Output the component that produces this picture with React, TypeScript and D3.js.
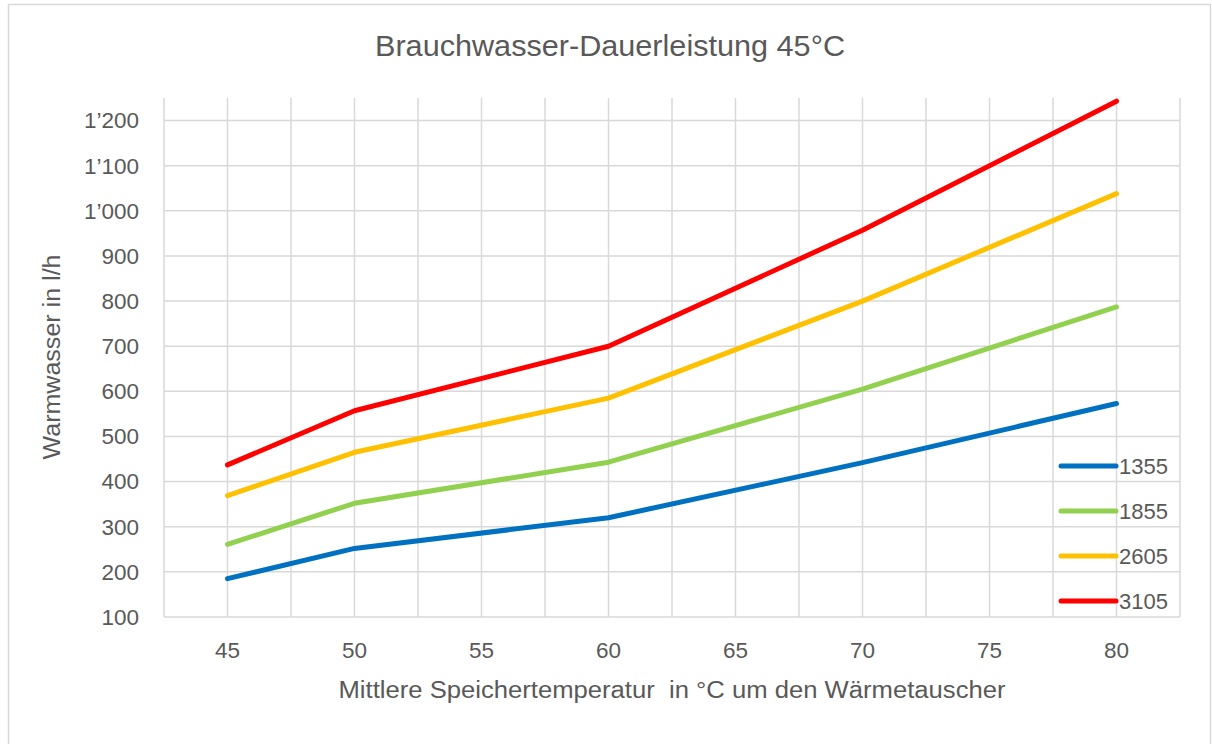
import React, { useRef, useEffect } from 'react';
import * as d3 from 'd3';

const temps = [45, 50, 60, 70, 80];
const series = ['1355', '1855', '2605', '3105'];
const colors = ['#0070C0', '#92D050', '#FFC000', '#FF0000'];
const values1355 = [185, 252, 320, 442, 573];
const values1855 = [261, 352, 443, 605, 787];
const values2605 = [369, 465, 585, 800, 1038];
const values3105 = [437, 557, 700, 957, 1243];
const allValues = [values1355, values1855, values2605, values3105];
const xTicks = [45, 50, 55, 60, 65, 70, 75, 80];
const yTicks = [100, 200, 300, 400, 500, 600, 700, 800, 900, 1000, 1100, 1200];

const W = 1212;
const H = 744;
const FONT = '"Liberation Sans", Arial, sans-serif';
const TEXT = '#595959';

const fmt = (v: number) => {
  const s = String(v);
  return s.length > 3 ? s.slice(0, s.length - 3) + '\u2019' + s.slice(-3) : s;
};

const App = () => {
  const svgRef = useRef<SVGSVGElement>(null);

  useEffect(() => {
    const svg = d3.select(svgRef.current).attr('width', W).attr('height', H).html('');

    const x = d3.scaleLinear().domain([42.5, 82.5]).range([164, 1180]);
    const y = d3.scaleLinear().domain([100, 1250]).range([617, 98]);

    // frame
    svg.append('rect')
      .attr('x', 8.5).attr('y', 4.5).attr('width', W - 10).attr('height', H - 2)
      .attr('fill', '#fff').attr('stroke', '#d9d9d9').attr('stroke-width', 1.5);

    // grid
    const grid = svg.append('g').attr('stroke', '#d9d9d9').attr('stroke-width', 1.5);
    d3.range(42.5, 82.6, 2.5).forEach(t => {
      grid.append('line').attr('x1', x(t)).attr('x2', x(t)).attr('y1', y(1250)).attr('y2', y(100));
    });
    yTicks.forEach(t => {
      grid.append('line').attr('x1', x(42.5)).attr('x2', x(82.5)).attr('y1', y(t)).attr('y2', y(t));
    });

    // y labels
    svg.append('g').selectAll('text').data(yTicks).enter().append('text')
      .attr('x', 139).attr('y', d => y(d)).attr('dy', '0.35em')
      .attr('text-anchor', 'end').attr('font-family', FONT).attr('font-size', 22.5)
      .attr('fill', TEXT).text(d => fmt(d));

    // x labels
    svg.append('g').selectAll('text').data(xTicks).enter().append('text')
      .attr('x', d => x(d)).attr('y', 650).attr('dy', '0.35em')
      .attr('text-anchor', 'middle').attr('font-family', FONT).attr('font-size', 22.5)
      .attr('fill', TEXT).text(d => d);

    // lines
    const line = d3.line<number>().x((_, i) => x(temps[i])).y(d => y(d));
    allValues.forEach((vals, i) => {
      svg.append('path').datum(vals).attr('d', line)
        .attr('fill', 'none').attr('stroke', colors[i]).attr('stroke-width', 5)
        .attr('stroke-linecap', 'round').attr('stroke-linejoin', 'round');
    });

    // legend
    const legend = svg.append('g');
    series.forEach((s, i) => {
      const ly = 466 + i * 45;
      legend.append('line').attr('x1', 1061).attr('x2', 1116).attr('y1', ly).attr('y2', ly)
        .attr('stroke', colors[i]).attr('stroke-width', 5).attr('stroke-linecap', 'round');
      legend.append('text').attr('x', 1119).attr('y', ly).attr('dy', '0.35em')
        .attr('font-family', FONT).attr('font-size', 22).attr('fill', TEXT).text(s);
    });

    // title
    svg.append('text').attr('x', 610).attr('y', 46).attr('dy', '0.35em')
      .attr('text-anchor', 'middle').attr('font-family', FONT).attr('font-size', 29)
      .attr('textLength', 470).attr('lengthAdjust', 'spacingAndGlyphs')
      .attr('fill', TEXT).text('Brauchwasser-Dauerleistung 45°C');

    // axis titles
    svg.append('text').attr('x', 672).attr('y', 690).attr('dy', '0.35em')
      .attr('text-anchor', 'middle').attr('font-family', FONT).attr('font-size', 23.5)
      .attr('textLength', 667).attr('lengthAdjust', 'spacingAndGlyphs')
      .attr('fill', TEXT).attr('xml:space', 'preserve')
      .text('Mittlere Speichertemperatur  in °C um den Wärmetauscher');

    svg.append('text').attr('transform', `translate(52,357) rotate(-90)`).attr('dy', '0.35em')
      .attr('text-anchor', 'middle').attr('font-family', FONT).attr('font-size', 23.5)
      .attr('textLength', 205).attr('lengthAdjust', 'spacingAndGlyphs')
      .attr('fill', TEXT).text('Warmwasser in l/h');
  }, []);

  return <svg ref={svgRef} style={{ position: 'absolute', left: 0, top: 0 }} />;
};

export default App;
